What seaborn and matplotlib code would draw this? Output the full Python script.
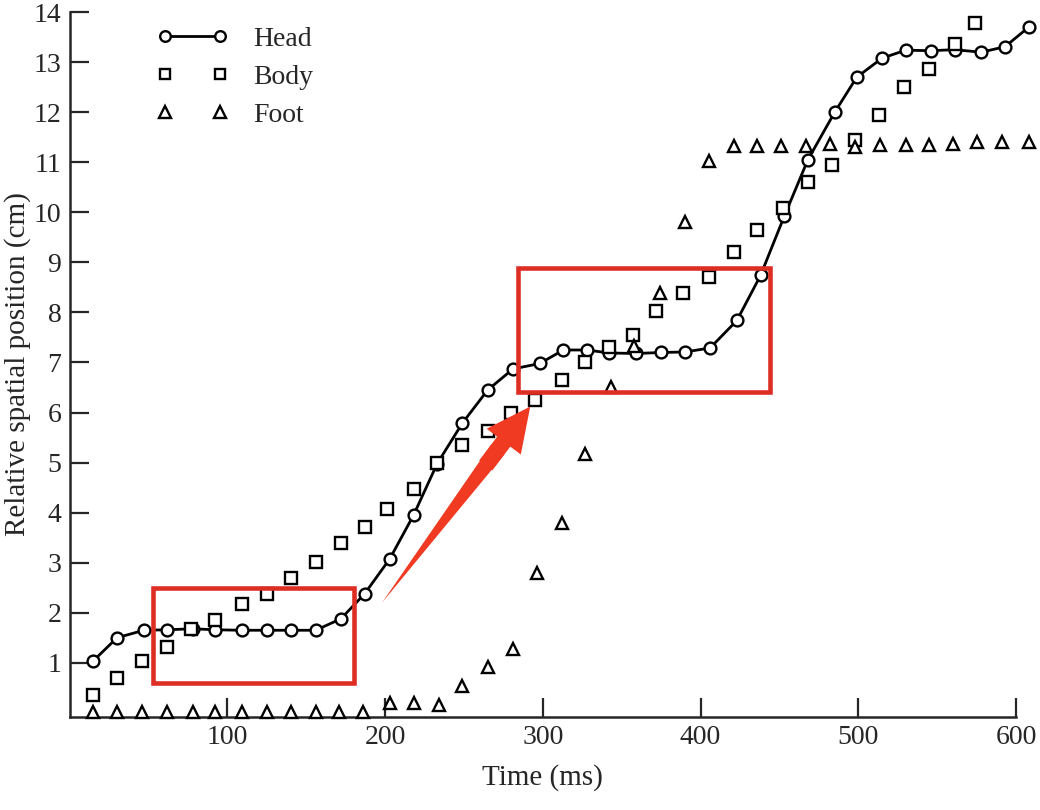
import pandas as pd
import matplotlib
matplotlib.use('Agg')
import matplotlib.pyplot as plt
import seaborn as sns
from matplotlib.patches import Rectangle

# values (time in ms, position in cm)
head_t = [15, 30, 47, 62, 78, 92, 109, 125, 140, 156, 172, 187, 203, 218, 233, 249, 265, 281, 298,
          313, 328, 342, 359, 375, 390, 406, 423, 438, 453, 468, 485, 499, 515, 530, 546, 561, 578,
          593, 608]
head_y = [1.04, 1.50, 1.65, 1.66, 1.68, 1.66, 1.65, 1.65, 1.65, 1.65, 1.88, 2.38, 3.08, 3.95, 4.98,
          5.79, 6.45, 6.87, 6.98, 7.25, 7.25, 7.19, 7.18, 7.20, 7.21, 7.29, 7.84, 8.74, 9.92, 11.05,
          12.0, 12.7, 13.08, 13.24, 13.23, 13.25, 13.2, 13.31, 13.7]

body_t = [15, 30, 46, 62, 77, 92, 109, 125, 140, 156, 172, 187, 201, 218, 233, 249, 265, 280, 295,
          312, 327, 342, 357, 372, 389, 405, 421, 436, 452, 468, 483, 498, 513, 529, 545, 561, 574]
body_y = [0.35, 0.70, 1.04, 1.31, 1.68, 1.86, 2.18, 2.38, 2.70, 3.02, 3.39, 3.71, 4.08, 4.48, 4.99,
          5.35, 5.63, 6.0, 6.25, 6.65, 7.01, 7.31, 7.55, 8.02, 8.39, 8.70, 9.21, 9.64, 10.09, 10.60,
          10.95, 11.45, 11.94, 12.5, 12.87, 13.37, 13.78]

foot_t = [15, 30, 46, 62, 78, 92, 109, 125, 140, 156, 171, 186, 203, 218, 234, 249, 265, 281, 296,
          312, 327, 343, 358, 374, 390, 405, 421, 436, 451, 467, 482, 498, 514, 530, 545, 560, 575,
          591, 608]
foot_y = [0.02, 0.02, 0.02, 0.02, 0.02, 0.02, 0.02, 0.02, 0.02, 0.02, 0.02, 0.02, 0.19, 0.19, 0.16,
          0.54, 0.92, 1.27, 2.80, 3.80, 5.17, 6.51, 7.33, 8.39, 9.81, 11.02, 11.32, 11.32, 11.33,
          11.33, 11.37, 11.30, 11.35, 11.35, 11.35, 11.37, 11.40, 11.40, 11.40]

# highlighted regions and arrow (ms, cm)
box1 = (53, 0.6, 127, 1.9)
box2 = (284, 6.41, 160, 2.47)
arrow_from = (198.0, 2.2)
arrow_to = (292.0, 6.12)

head = pd.DataFrame({'t': head_t, 'y': head_y})
body = pd.DataFrame({'t': body_t, 'y': body_y})
foot = pd.DataFrame({'t': foot_t, 'y': foot_y})

sns.set_style('ticks')
plt.rcParams['font.family'] = ['Liberation Serif', 'DejaVu Serif']

fig = plt.figure(figsize=(10.4, 8.1), dpi=100)
ax = fig.add_axes([0.067, 0.115, 0.91, 0.87])

mk = dict(markerfacecolor='white', markeredgecolor='black', markeredgewidth=1.7, clip_on=False)
sns.lineplot(data=head, x='t', y='y', ax=ax, color='black', lw=2.0, marker='o', markersize=8.5,
             label='Head', errorbar=None, zorder=3, **mk)
sns.lineplot(data=body, x='t', y='y', ax=ax, color='black', ls='none', marker='s', markersize=8,
             label='Body', errorbar=None, zorder=4, **mk)
sns.lineplot(data=foot, x='t', y='y', ax=ax, color='black', ls='none', marker='^', markersize=9,
             label='Foot', errorbar=None, zorder=4, **mk)

red = '#DD2E24'
for bx in (box1, box2):
    ax.add_patch(Rectangle(bx[:2], bx[2], bx[3], fill=False, ec=red, lw=3.3, zorder=5))

# tapered arrow: wedge shaft (pointed at the tail) + head
arrow_red = '#F03A22'
f = 0.78
mid = (arrow_from[0] + f * (arrow_to[0] - arrow_from[0]),
       arrow_from[1] + f * (arrow_to[1] - arrow_from[1]))
ax.annotate('', xy=arrow_from, xytext=mid,
            arrowprops=dict(arrowstyle='wedge,tail_width=0.27,shrink_factor=0.5',
                            fc=arrow_red, ec='none', shrinkA=0, shrinkB=0, mutation_scale=44),
            zorder=6)
g = 0.7
mid2 = (arrow_from[0] + g * (arrow_to[0] - arrow_from[0]),
        arrow_from[1] + g * (arrow_to[1] - arrow_from[1]))
ax.annotate('', xy=arrow_to, xytext=mid2,
            arrowprops=dict(arrowstyle='simple,head_length=0.72,head_width=0.7,tail_width=0.27',
                            fc=arrow_red, ec='none', shrinkA=0, shrinkB=0, mutation_scale=44),
            zorder=6)

ax.set_xlim(0, 600)
ax.set_ylim(-0.08, 14)
ax.set_xticks([100, 200, 300, 400, 500, 600])
ax.set_yticks(range(1, 15))
ax.tick_params(direction='in', length=14, width=1.6, labelsize=20, pad=6)
for s in ['left', 'bottom']:
    ax.spines[s].set_linewidth(1.8)
sns.despine(ax=ax)

ax.set_xlabel('Time (ms)', fontsize=21, labelpad=10)
ax.set_ylabel('Relative spatial position (cm)', fontsize=21, labelpad=2)

leg = ax.legend(loc='upper left', bbox_to_anchor=(0.065, 1.015), frameon=False, numpoints=2,
                handlelength=2.6, handletextpad=0.9, labelspacing=0.45, fontsize=20,
                markerscale=0.9)

fig.savefig('out.png', dpi=100)
